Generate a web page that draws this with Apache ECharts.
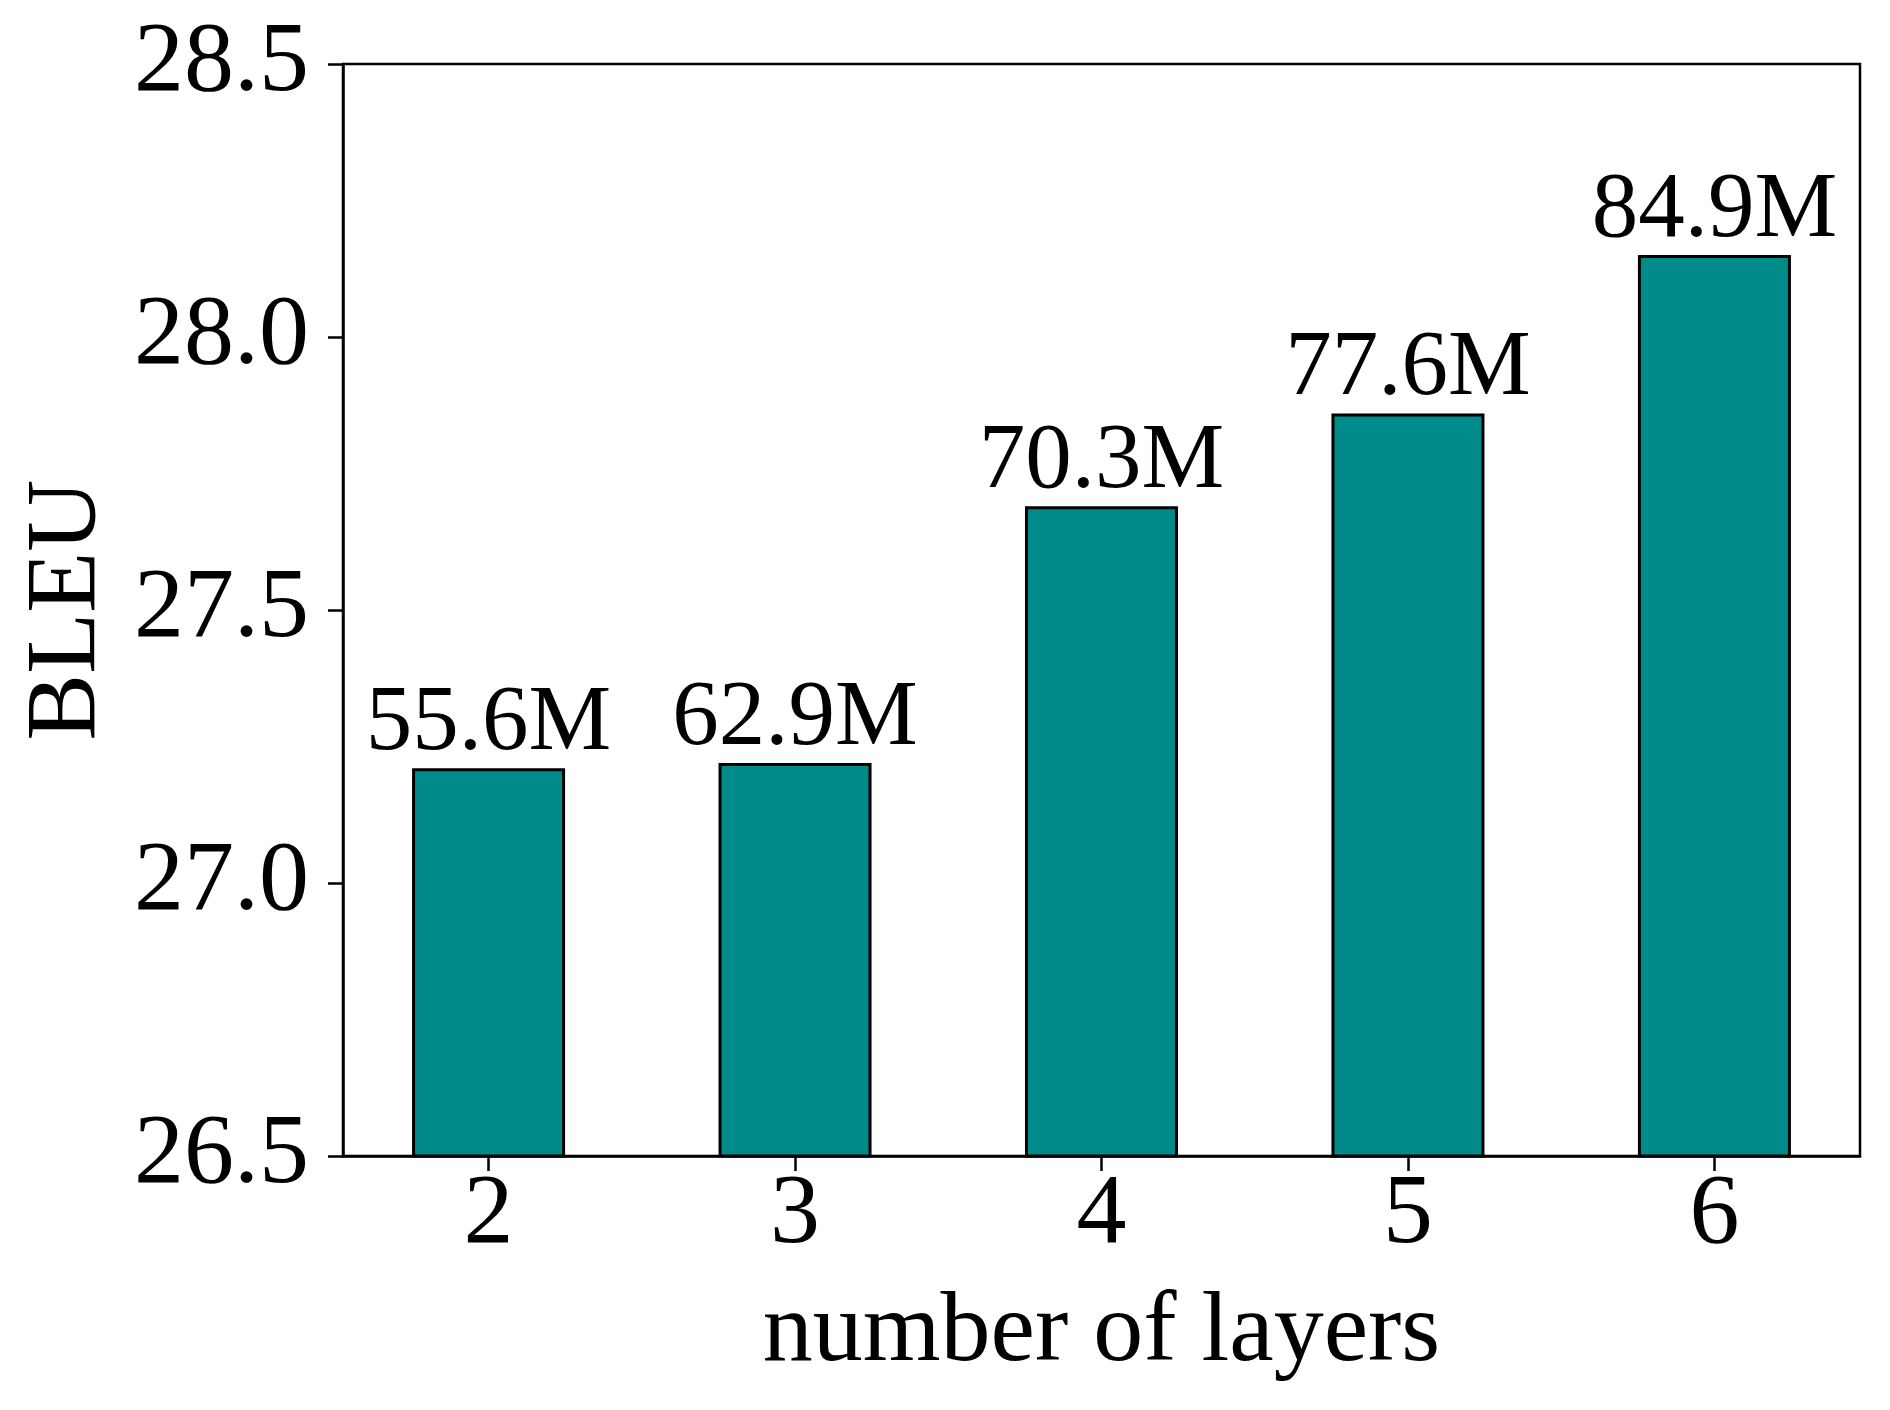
<!DOCTYPE html>
<html>
<head>
<meta charset="utf-8">
<title>BLEU vs number of layers</title>
<script src="https://cdn.jsdelivr.net/npm/echarts@6/dist/echarts.min.js"></script>
<style>
  html, body { margin: 0; padding: 0; background: #fff; }
  #chart { width: 1890px; height: 1410px; }
</style>
</head>
<body>
<div id="chart"></div>
<script>
// data
var layers = [2, 3, 4, 5, 6];
var bleu = [27.21, 27.22, 27.69, 27.86, 28.15];
var params = ['55.6M', '62.9M', '70.3M', '77.6M', '84.9M'];
var yTicks = [26.5, 27.0, 27.5, 28.0, 28.5];

var serif = '"Liberation Serif", "Times New Roman", serif';

var chart = echarts.init(document.getElementById('chart'));

// matplotlib-like x range: bars of width 0.5 plus 5% margins
var option = {
  animation: false,
  backgroundColor: '#fff',
  grid: {
    left: 343, right: 30, top: 64, bottom: 254,
    containLabel: false,
    outerBoundsMode: 'none',
    show: true, borderColor: '#000', borderWidth: 2.5, backgroundColor: 'transparent'
  },
  xAxis: {
    type: 'value',
    min: 1.525,
    max: 6.475,
    name: 'number of layers',
    nameLocation: 'middle',
    nameGap: 128,
    nameTextStyle: { fontFamily: serif, fontSize: 100, color: '#000' },
    axisLine: { show: true, lineStyle: { color: '#000', width: 2.5 } },
    axisTick: { show: true, length: 15, lineStyle: { color: '#000', width: 2.5 }, customValues: layers },
    axisLabel: {
      fontFamily: serif, fontSize: 100, color: '#000', margin: 10,
      customValues: layers,
      formatter: function (v) { return String(Math.round(v)); }
    },
    splitLine: { show: false }
  },
  yAxis: {
    type: 'value',
    min: yTicks[0],
    max: yTicks[yTicks.length - 1],
    interval: 0.5,
    name: 'BLEU',
    nameLocation: 'middle',
    nameGap: 225,
    nameTextStyle: { fontFamily: serif, fontSize: 100, color: '#000' },
    axisLine: { show: true, lineStyle: { color: '#000', width: 2.5 } },
    axisTick: { show: true, length: 15, lineStyle: { color: '#000', width: 2.5 } },
    axisLabel: {
      fontFamily: serif, fontSize: 100, color: '#000', margin: 34,
      formatter: function (v) { return v.toFixed(1); }
    },
    splitLine: { show: false }
  },
  series: [{
    type: 'bar',
    barWidth: 153,
    data: layers.map(function (l, i) { return [l, bleu[i]]; }),
    itemStyle: { color: '#008b8b', borderColor: '#000', borderWidth: 3 },
    label: {
      show: true,
      position: 'top',
      distance: 0,
      offset: [0, 3],
      fontFamily: serif,
      fontSize: 93,
      color: '#000',
      formatter: function (p) { return params[p.dataIndex]; }
    }
  }]
};

chart.setOption(option);
</script>
</body>
</html>
